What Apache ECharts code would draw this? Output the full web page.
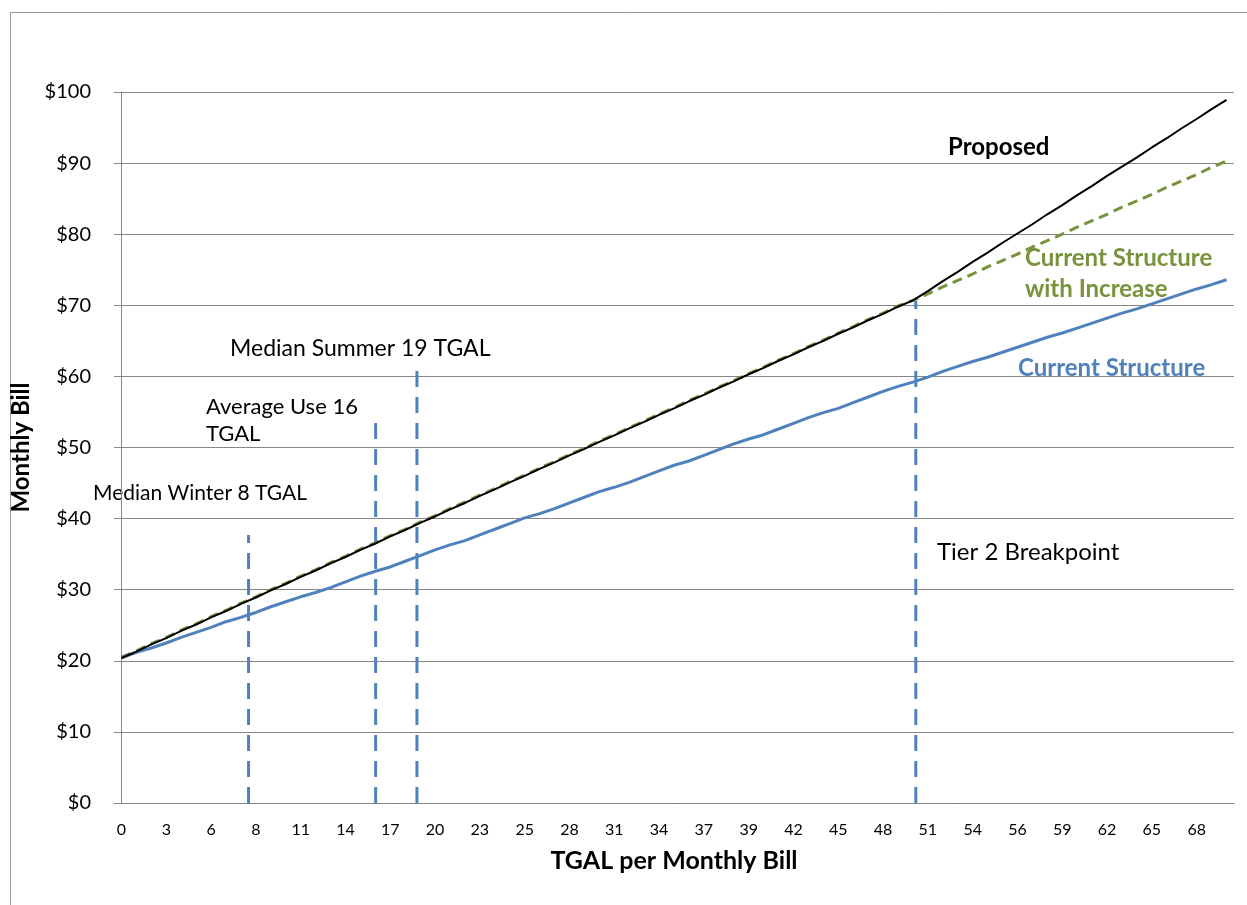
<!DOCTYPE html>
<html>
<head>
<meta charset="utf-8">
<script src="https://cdn.jsdelivr.net/npm/echarts@6/dist/echarts.min.js"></script>
<style>
  html, body { margin: 0; padding: 0; background: #fff; }
  #main { width: 1247px; height: 905px; }
</style>
</head>
<body>
<div id="main"></div>
<script>
// x categories (TGAL per bill, rounded as shown on the axis)
var tgalLabels = ['0','1','2','3','4','5','6','7','8','8','9','10','11','12','13','14','15','16','17','18',
  '19','20','21','22','23','24','24','25','26','27','28','29','30','31','32','33','34','35','36','37',
  '38','39','39','40','41','42','43','44','45','46','47','48','49','50','51','52','53','54','55','55',
  '56','57','58','59','60','61','62','63','64','65','66','67','68','69','70'];

// monthly bill, $
var proposed = [20.4,21.3,22.3,23.2,24.2,25.1,26.1,27.0,28.0,28.9,29.9,30.8,31.8,32.7,33.7,34.6,35.6,36.5,37.5,38.4,
  39.4,40.3,41.3,42.2,43.2,44.1,45.1,46.0,47.0,47.9,48.9,49.8,50.8,51.7,52.7,53.6,54.6,55.5,56.5,57.4,
  58.4,59.3,60.3,61.2,62.2,63.1,64.1,65.0,66.0,66.9,67.9,68.8,69.8,70.7,72.0,73.4,74.7,76.1,77.4,78.8,
  80.1,81.4,82.8,84.1,85.5,86.8,88.2,89.5,90.8,92.2,93.5,94.9,96.2,97.6,98.9];

var currentIncrease = [20.5,21.4,22.4,23.3,24.3,25.2,26.2,27.1,28.1,29.0,30.0,30.9,31.9,32.8,33.8,34.7,35.7,36.6,37.6,38.5,
  39.5,40.4,41.4,42.3,43.3,44.2,45.2,46.1,47.1,48.0,49.0,49.9,50.9,51.8,52.8,53.7,54.7,55.6,56.6,57.5,
  58.5,59.4,60.4,61.3,62.3,63.2,64.2,65.1,66.1,67.0,68.0,68.9,69.9,70.7,71.6,72.6,73.5,74.4,75.4,76.3,
  77.2,78.2,79.1,80.0,81.0,81.9,82.8,83.8,84.7,85.6,86.6,87.5,88.4,89.4,90.3];

var currentStructure = [20.4,21.2,21.8,22.5,23.3,24.0,24.7,25.5,26.1,26.8,27.6,28.3,29.0,29.6,30.3,31.1,31.9,32.6,33.2,34.0,
  34.8,35.6,36.3,36.9,37.7,38.5,39.3,40.1,40.7,41.4,42.2,43.0,43.8,44.4,45.1,45.9,46.7,47.5,48.1,48.9,
  49.7,50.5,51.2,51.8,52.6,53.4,54.2,54.9,55.5,56.3,57.1,57.9,58.6,59.2,59.9,60.7,61.4,62.1,62.7,63.4,
  64.1,64.8,65.5,66.1,66.8,67.5,68.2,68.9,69.5,70.2,70.9,71.6,72.3,72.9,73.6];

// reference markers: TGAL position and top of the dashed line ($)
var markerTgal = [8, 16, 18.6, 50];
var markerTop = [37.7, 53.6, 61.2, 70.6];

var FONT = 'Lato, "Open Sans", sans-serif';
var GRAY = '#868686';
var BLUE = '#4F81BD';
var GREEN = '#77933C';

var chart = echarts.init(document.getElementById('main'));

var series = [
    {
        name: 'Current Structure with Increase',
        type: 'line',
        data: currentIncrease,
        symbol: 'none',
        lineStyle: { color: GREEN, width: 3, type: [10, 6] },
        z: 3
    },
    {
        name: 'Current Structure',
        type: 'line',
        data: currentStructure,
        symbol: 'none',
        lineStyle: { color: BLUE, width: 3 },
        z: 3
    },
    {
        name: 'Proposed',
        type: 'line',
        data: proposed,
        symbol: 'none',
        lineStyle: { color: '#000', width: 2 },
        z: 4
    }
];

for (var i = 0; i < markerTgal.length; i++) {   // vertical dashed markers
    series.push({
        type: 'line',
        xAxisIndex: 1,
        data: [[markerTgal[i], 0], [markerTgal[i], markerTop[i]]],
        symbol: 'none',
        silent: true,
        lineStyle: { color: BLUE, width: 3, type: [16, 10] },
        z: 2
    });
}

function txt(left, top, text, opt) {
    return {
        type: 'text', left: left, top: top, silent: true,
        style: Object.assign({ text: text, font: '22px ' + FONT, fill: '#000' }, opt || {})
    };
}

var option = {
    animation: false,
    backgroundColor: '#fff',
    grid: { left: 114, right: 13, top: 92, bottom: 102 },
    xAxis: [{
        type: 'category',
        data: tgalLabels,
        boundaryGap: true,
        axisLine: { lineStyle: { color: GRAY, width: 1 } },
        axisTick: { interval: 0, length: 5, lineStyle: { color: GRAY } },
        axisLabel: { interval: 2, color: '#000', fontSize: 16, fontFamily: FONT, margin: 19 },
        name: 'TGAL per Monthly Bill',
        nameLocation: 'middle',
        nameGap: 45,
        nameTextStyle: { fontSize: 25, fontWeight: 'bold', fontFamily: FONT, color: '#000' }
    }, {
        type: 'value',
        show: false,
        min: -0.47,
        max: 70.03
    }],
    yAxis: {
        type: 'value',
        min: 0,
        max: 100,
        interval: 10,
        axisLine: { show: true, lineStyle: { color: GRAY } },
        axisTick: { show: true, length: 7, lineStyle: { color: GRAY } },
        splitLine: { lineStyle: { color: GRAY, width: 1 } },
        axisLabel: { formatter: '${value}', color: '#000', fontSize: 20, fontFamily: FONT, margin: 23 },
        name: 'Monthly Bill',
        nameLocation: 'middle',
        nameGap: 66,
        nameTextStyle: { fontSize: 24, fontWeight: 'bold', fontFamily: FONT, color: '#000' }
    },
    graphic: [
        { type: 'rect', silent: true, shape: { x: 10.5, y: 12.5, width: 1400, height: 1000 },
          style: { fill: null, stroke: '#9a9a9a', lineWidth: 1 } },
        txt(948, 135, 'Proposed', { font: 'bold 24px ' + FONT }),
        txt(1025, 243, 'Current Structure\nwith Increase', { font: 'bold 24px ' + FONT, fill: GREEN, lineHeight: 31, align: 'center', x: 96 }),
        txt(1018, 356, 'Current Structure', { font: 'bold 24px ' + FONT, fill: BLUE }),
        txt(230, 337, 'Median Summer 19 TGAL', { font: '23px ' + FONT }),
        txt(206, 393, 'Average Use 16\nTGAL', { lineHeight: 27 }),
        txt(93, 483, 'Median Winter 8 TGAL', { font: '21px ' + FONT }),
        txt(937, 540, 'Tier 2 Breakpoint', { font: '24px ' + FONT })
    ],
    series: series
};

chart.setOption(option);
</script>
</body>
</html>
